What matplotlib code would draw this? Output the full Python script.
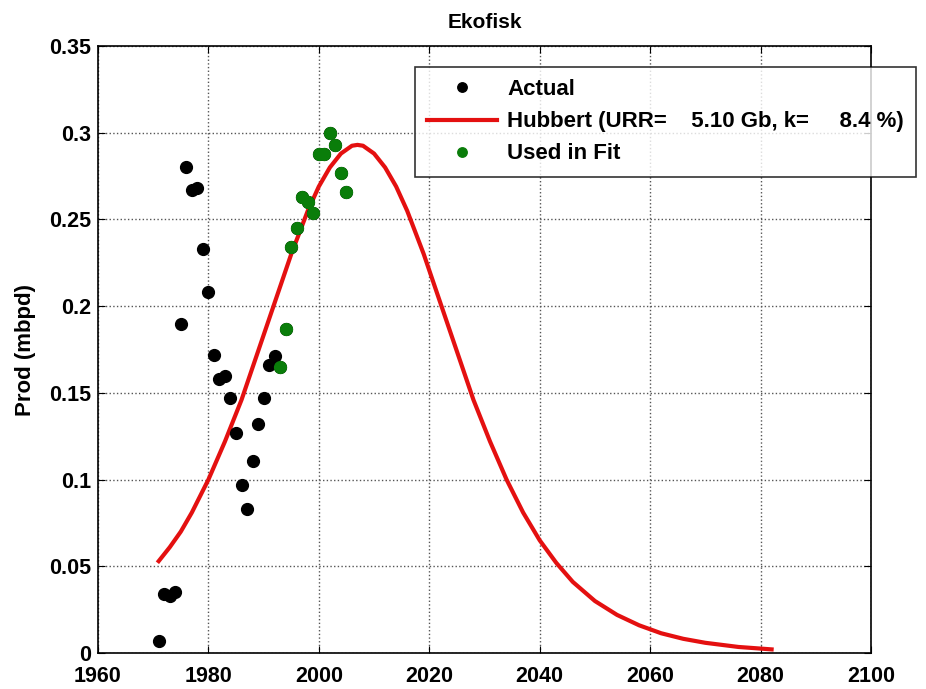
import matplotlib
matplotlib.use('Agg')
import matplotlib.pyplot as plt

# actual production, mbpd
actualYears = list(range(1971, 2006))
actualProd = [0.007, 0.034, 0.033, 0.035, 0.190, 0.280, 0.267, 0.268, 0.233, 0.208,
              0.172, 0.158, 0.160, 0.147, 0.127, 0.097, 0.083, 0.111, 0.132, 0.147,
              0.166, 0.171,
              0.165, 0.187, 0.234, 0.245, 0.263, 0.260, 0.254, 0.288, 0.288, 0.300,
              0.293, 0.277, 0.266]

# points used in the fit
fitYears = list(range(1993, 2006))
fitProd = [0.165, 0.187, 0.234, 0.245, 0.263, 0.260, 0.254, 0.288, 0.288, 0.300,
           0.293, 0.277, 0.266]

# hubbert curve
hubbertYears = [1971, 1973, 1975, 1977, 1980, 1983, 1986, 1989, 1992, 1995, 1998, 2000,
                2002, 2004, 2006, 2007, 2008, 2010, 2012, 2014, 2016, 2019, 2022,
                2025, 2028, 2031, 2034, 2037, 2040, 2043, 2046, 2050, 2054, 2058,
                2062, 2066, 2070, 2076, 2082]
hubbertProd = [0.053, 0.061, 0.070, 0.081, 0.100, 0.122, 0.146, 0.174, 0.202, 0.230,
               0.255, 0.269, 0.280, 0.288, 0.2925, 0.293, 0.2925, 0.288, 0.280, 0.269,
               0.255, 0.230, 0.202, 0.174, 0.146, 0.122, 0.100, 0.081, 0.065, 0.052,
               0.041, 0.030, 0.022, 0.016, 0.0114, 0.0082, 0.0059, 0.0035, 0.0021]

xTicks = [1960, 1980, 2000, 2020, 2040, 2060, 2080, 2100]
yTicks = [0, 0.05, 0.1, 0.15, 0.2, 0.25, 0.3, 0.35]
yTickLabels = ['0', '0.05', '0.1', '0.15', '0.2', '0.25', '0.3', '0.35']

plt.rcParams['font.family'] = ['Liberation Sans', 'DejaVu Sans']
plt.rcParams['font.weight'] = 'bold'

fig = plt.figure(figsize=(9.26, 6.89), dpi=100)
ax = fig.add_axes([0.1058, 0.0522, 0.8348, 0.881])

ax.plot(actualYears, actualProd, 'o', color='black', markersize=8.5, label='Actual', zorder=3)
ax.plot(hubbertYears, hubbertProd, '-', color='#e41010', linewidth=3,
        label='Hubbert (URR=    5.10 Gb, k=     8.4 %)', zorder=2)
ax.plot(fitYears, fitProd, 'o', color='#0a7d0a', markersize=8.5, label='Used in Fit', zorder=4)

ax.set_xlim(1960, 2100)
ax.set_ylim(0, 0.35)
ax.set_xticks(xTicks)
ax.set_yticks(yTicks)
ax.set_yticklabels(yTickLabels)
ax.tick_params(direction='in', top=True, right=True, labelsize=15.5, length=5)
ax.tick_params(axis='x', pad=9)
ax.tick_params(axis='y', pad=5)
for lbl in ax.get_xticklabels() + ax.get_yticklabels():
    lbl.set_fontweight('bold')

ax.grid(True, linestyle=':', color='#555555', linewidth=1)
for s in ax.spines.values():
    s.set_linewidth(1.2)

ax.set_title('Ekofisk', fontsize=15, fontweight='bold', pad=13)
ax.set_ylabel('Prod (mbpd)', fontsize=16, fontweight='bold', labelpad=9)

leg = ax.legend(loc='upper left', bbox_to_anchor=(415 / 926, 1 - 67 / 689),
                bbox_transform=fig.transFigure, fontsize=16, frameon=True,
                fancybox=False, handlelength=3.15, borderaxespad=0, borderpad=0.55,
                labelspacing=0.5, handletextpad=0.45, numpoints=1, markerscale=0.8)
leg.get_frame().set_edgecolor('black')
leg.get_frame().set_linewidth(1.2)
for t in leg.get_texts():
    t.set_fontweight('bold')

fig.savefig('out.png', dpi=100)
